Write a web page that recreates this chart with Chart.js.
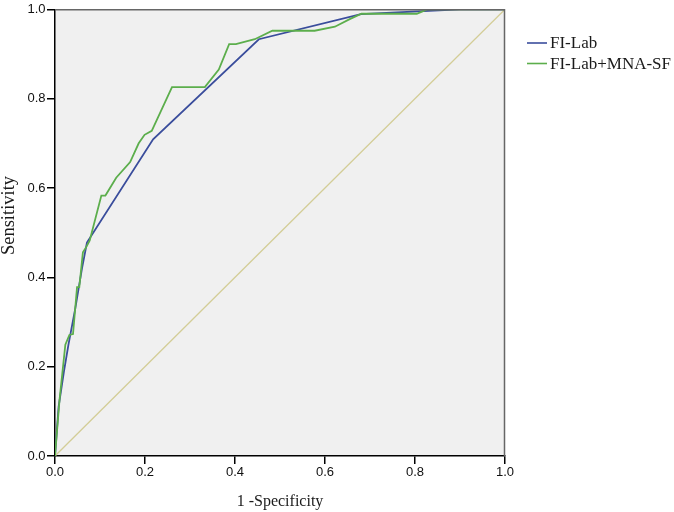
<!DOCTYPE html>
<html>
<head>
<meta charset="utf-8">
<script src="https://cdn.jsdelivr.net/npm/chart.js@4/dist/chart.umd.min.js"></script>
<style>
  html, body { margin: 0; padding: 0; background: #ffffff; }
  #wrap { width: 674px; height: 512px; }
</style>
</head>
<body>
<div id="wrap"><canvas id="c" width="674" height="512"></canvas></div>
<script>
// ---- data ----
const seriesNames = ["FI-Lab", "FI-Lab+MNA-SF"];

const fiLabX = [0, 0.008, 0.02, 0.03, 0.045, 0.06, 0.071, 0.218, 0.453, 0.68, 0.9, 1];
const fiLabY = [0, 0.11, 0.19, 0.25, 0.33, 0.42, 0.478, 0.709, 0.933, 0.989, 1, 1];

const comboX = [0, 0.01, 0.023, 0.032, 0.04, 0.049, 0.054, 0.062, 0.069, 0.077, 0.103, 0.112, 0.136, 0.167, 0.186, 0.199, 0.215, 0.260, 0.333, 0.364, 0.387, 0.402, 0.444, 0.483, 0.577, 0.622, 0.655, 0.681, 0.804, 0.827, 1];
const comboY = [0, 0.125, 0.249, 0.271, 0.273, 0.378, 0.378, 0.456, 0.467, 0.482, 0.583, 0.583, 0.623, 0.658, 0.700, 0.719, 0.728, 0.826, 0.826, 0.865, 0.922, 0.922, 0.933, 0.952, 0.952, 0.961, 0.978, 0.990, 0.990, 1.0, 1.0];

const refX = [0, 1];
const refY = [0, 1];

const tickValues = [0, 0.2, 0.4, 0.6, 0.8, 1.0];
const xTitle = "1 -Specificity";
const yTitle = "Sensitivity";

const toPts = (xs, ys) => xs.map((x, i) => ({ x: x, y: ys[i] }));

const plotBg = {
  id: 'plotBg',
  beforeDraw(chart) {
    const { ctx, chartArea: a } = chart;
    ctx.save();
    ctx.fillStyle = '#f0f0f0';
    ctx.fillRect(a.left, a.top, a.right - a.left, a.bottom - a.top);
    ctx.restore();
  },
  afterDraw(chart) {
    const { ctx, chartArea: a } = chart;
    ctx.save();
    ctx.strokeStyle = '#666666';
    ctx.lineWidth = 1.5;
    ctx.beginPath();
    ctx.moveTo(a.left, a.top + 0.5);
    ctx.lineTo(a.right - 0.5, a.top + 0.5);
    ctx.lineTo(a.right - 0.5, a.bottom);
    ctx.stroke();
    // y axis title (offset above centre as in the reference)
    ctx.save();
    ctx.translate(9.5, 215.5);
    ctx.rotate(-Math.PI / 2);
    ctx.font = '18.5px "Liberation Serif", "Times New Roman", serif';
    ctx.textAlign = 'center';
    ctx.textBaseline = 'middle';
    ctx.fillStyle = '#1a1a1a';
    ctx.fillText(yTitle, 0, 0);
    ctx.restore();
    // legend
    const ds = chart.data.datasets.filter(d => d.showInLegend);
    ctx.font = '17px "Liberation Serif", "Times New Roman", serif';
    ctx.textBaseline = 'middle';
    ctx.textAlign = 'left';
    ds.forEach((d, i) => {
      const y = 43 + i * 20.5;
      ctx.strokeStyle = d.borderColor;
      ctx.lineWidth = 1.6;
      ctx.beginPath();
      ctx.moveTo(527, y);
      ctx.lineTo(547, y);
      ctx.stroke();
      ctx.fillStyle = '#1a1a1a';
      ctx.fillText(d.label, 550, y + 1);
    });
    ctx.restore();
  }
};

const axisCommon = {
  type: 'linear',
  min: 0,
  max: 1,
  afterBuildTicks(scale) { scale.ticks = tickValues.map(v => ({ value: v })); },
  grid: { drawOnChartArea: false, drawTicks: true, color: '#000000', tickColor: '#000000', tickLength: 8, lineWidth: 1.5 },
  border: { display: true, color: '#000000', width: 1.5 },
};

new Chart(document.getElementById('c'), {
  type: 'scatter',
  data: {
    datasets: [
      { label: 'ref', data: toPts(refX, refY), showLine: true, borderColor: '#d3cd97', borderWidth: 1.3, pointRadius: 0, showInLegend: false, order: 3 },
      { label: seriesNames[0], data: toPts(fiLabX, fiLabY), showLine: true, borderColor: '#3a4d9c', borderWidth: 1.8, pointRadius: 0, showInLegend: true, order: 2 },
      { label: seriesNames[1], data: toPts(comboX, comboY), showLine: true, borderColor: '#5cae4c', borderWidth: 1.8, pointRadius: 0, showInLegend: true, order: 1 }
    ]
  },
  options: {
    responsive: false,
    animation: false,
    devicePixelRatio: 1,
    layout: { padding: { top: 5, right: 169, left: 0, bottom: 0 } },
    plugins: { legend: { display: false }, tooltip: { enabled: false } },
    scales: {
      x: Object.assign({}, axisCommon, {
        position: 'bottom',
        afterFit(s) { s.height = 56; },
        ticks: { padding: 1, color: '#111111', font: { family: '"Liberation Sans", Arial, sans-serif', size: 13 }, callback: v => v.toFixed(1), maxRotation: 0 },
        title: { display: true, text: xTitle, color: '#1a1a1a', font: { family: '"Liberation Serif", "Times New Roman", serif', size: 16 }, padding: { top: 0, bottom: 1 } }
      }),
      y: Object.assign({}, axisCommon, {
        position: 'left',
        afterFit(s) { s.width = 55; },
        ticks: { padding: 1.5, color: '#111111', font: { family: '"Liberation Sans", Arial, sans-serif', size: 13 }, callback: v => v.toFixed(1) },
        title: { display: false }
      })
    }
  },
  plugins: [plotBg]
});
</script>
</body>
</html>
